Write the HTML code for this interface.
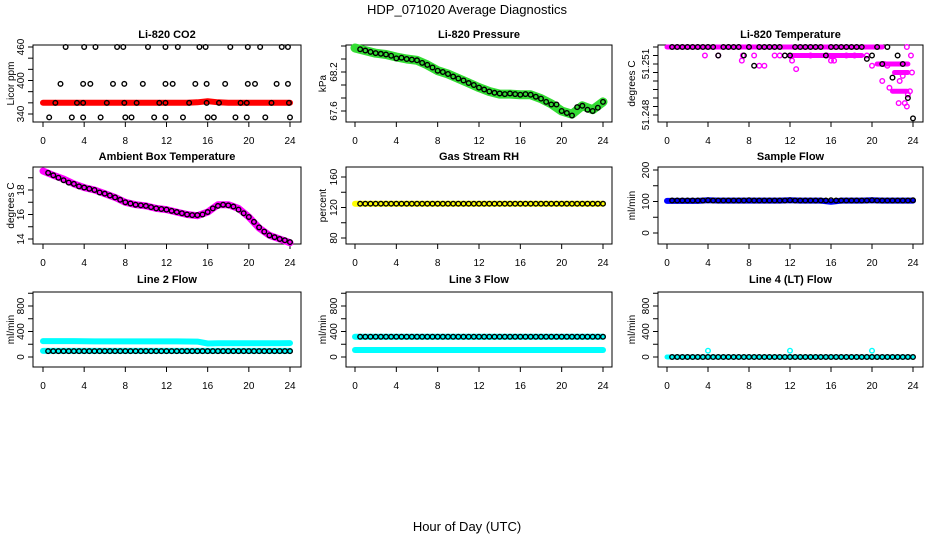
<!DOCTYPE html>
<html><head><meta charset="utf-8"><style>
html,body{margin:0;padding:0;background:#fff}
svg{display:block;font-family:"Liberation Sans",sans-serif}
</style></head><body>
<svg id="chart" width="936" height="540" viewBox="0 0 936 540" xmlns="http://www.w3.org/2000/svg">
<text x="467" y="14" text-anchor="middle" font-size="13">HDP_071020  Average Diagnostics</text>
<text x="467" y="531" text-anchor="middle" font-size="13">Hour of Day (UTC)</text>
</svg>
<script>
// ---- data ----
const xTicks = [0,4,8,12,16,20,24];
const hours = [0,1,2,3,4,5,6,7,8,9,10,11,12,13,14,15,16,17,18,19,20,21,22,23,24];
const halfHours = [0.5,1,1.5,2,2.5,3,3.5,4,4.5,5,5.5,6,6.5,7,7.5,8,8.5,9,9.5,10,10.5,11,11.5,12,12.5,13,13.5,14,14.5,15,15.5,16,16.5,17,17.5,18,18.5,19,19.5,20,20.5,21,21.5,22,22.5,23,23.5,24];

const co2Hours = [2.2,4.0,5.1,7.2,7.8,10.2,11.9,13.1,15.2,15.8,18.2,19.9,21.1,23.2,23.8, 1.7,3.9,4.6,6.8,7.9,9.7,11.9,12.6,14.8,15.9,17.7,19.9,20.6,22.7,23.8, 1.2,3.3,3.9,6.2,7.9,9.1,11.3,11.9,14.2,15.9,17.1,19.2,19.8,22.2,23.9, 0.6,2.8,3.9,5.6,8.0,8.6,10.8,11.9,13.6,16.0,16.6,18.7,19.8,21.6,24.0];
const co2Values = [460,460,460,460,460,460,460,460,460,460,460,460,460,460,460, 394,394,394,394,394,394,394,394,394,394,394,394,394,394,394, 360,360,360,360,360,360,360,360,360,360,360,360,360,360,360, 334,334,334,334,334,334,334,334,334,334,334,334,334,334,334];
const co2Band = [360,360,360,360,360,360,360,360,360,360,360,360,360,360,360,361,363,361,360,360,360,360,360,360,360];

const pressBand = [68.57,68.53,68.49,68.47,68.43,68.40,68.38,68.31,68.22,68.17,68.10,68.03,67.96,67.90,67.86,67.86,67.85,67.85,67.79,67.71,67.60,67.55,67.68,67.62,67.74];
const pressBlack = [68.55,68.53,68.51,68.49,68.48,68.47,68.45,68.41,68.42,68.40,68.39,68.38,68.34,68.31,68.27,68.22,68.20,68.17,68.13,68.10,68.07,68.03,68.00,67.96,67.93,67.90,67.88,67.87,67.86,67.87,67.86,67.85,67.86,67.85,67.82,67.79,67.74,67.70,67.70,67.60,67.57,67.53,67.66,67.68,67.62,67.60,67.65,67.74];

const tempBlack = [51.252,51.252,51.252,51.252,51.252,51.252,51.252,51.252,51.252,51.2515,51.252,51.252,51.252,51.252,51.2515,51.252,51.2509,51.252,51.252,51.252,51.252,51.252,51.2515,51.2515,51.252,51.252,51.252,51.252,51.252,51.252,51.2515,51.252,51.252,51.252,51.252,51.252,51.252,51.252,51.2513,51.2515,51.252,51.2510,51.252,51.2502,51.2515,51.2510,51.2490,51.2478];
const tempBandStart = [0,12,20.5,22.2,22.0];
const tempBandEnd = [21,19,23.5,23.5,23.4];
const tempBandValue = [51.252,51.2515,51.2510,51.2505,51.2494];
const tempPinkHours = [3.7,5.0,7.4,7.3,8.5,9.0,9.5,11.5,12.2,12.6,14.0,15.6,16.3,17.5,20.0,21.2,21.5,21.0,21.7,22.6,23.2,23.4,23.5,23.7,23.9,23.8,23.4,22.7,23.0,18.3,19.5,16.0,10.5,11.0];
const tempPinkValues = [51.2515,51.2515,51.2515,51.2512,51.2515,51.2509,51.2509,51.2515,51.2512,51.2507,51.2515,51.2515,51.2512,51.2515,51.2509,51.2510,51.2509,51.2500,51.2496,51.2487,51.2487,51.2485,51.2492,51.2494,51.2505,51.2515,51.2520,51.2500,51.2503,51.2515,51.2515,51.2512,51.2515,51.2515];

const ambBand = [19.55,19.2,18.9,18.5,18.2,18.0,17.7,17.4,17.0,16.8,16.7,16.5,16.4,16.2,16.0,15.9,16.2,16.8,16.8,16.5,15.8,14.9,14.3,14.0,13.7];
const ambBlack = [19.4,19.2,19.0,18.8,18.6,18.5,18.3,18.2,18.1,18.0,17.8,17.7,17.55,17.4,17.2,17.0,16.9,16.8,16.75,16.7,16.6,16.5,16.45,16.4,16.3,16.2,16.1,16.0,15.95,15.95,16.0,16.2,16.5,16.7,16.8,16.75,16.65,16.4,16.1,15.8,15.4,14.95,14.6,14.3,14.15,14.0,13.9,13.75];

const rhBand = [125,125,125,125,125,125,125,125,125,125,125,125,125,125,125,125,125,125,125,125,125,125,125,125,125];
const rhBlack = [125,125,125,125,125,125,125,125,125,125,125,125,125,125,125,125,125,125,125,125,125,125,125,125,125,125,125,125,125,125,125,125,125,125,125,125,125,125,125,125,125,125,125,125,125,125,125,125];

const sampleBand = [102,102,102,102,104,103,103,103,103,103,103,103,104,103,103,103,99,103,103,103,104,103,103,103,103];
const sampleBlack = [103,103,103,103,103,103,103,104,103,103,103,103,103,103,103,104,103,103,103,103,103,103,103,104,103,103,103,103,103,103,103,104,103,103,103,103,103,103,103,104,103,103,103,103,103,103,103,104];

const line2BandHigh = [250,250,250,250,248,245,245,245,245,245,245,245,245,245,243,242,212,215,215,215,215,215,215,215,218];
const line2BandLow = [95,95,95,95,95,95,95,95,95,95,95,95,95,95,95,95,95,95,95,95,95,95,95,95,95];
const line2Black = [92,92,92,92,92,92,92,92,92,92,92,92,92,92,92,92,92,92,92,92,92,92,92,92,92,92,92,92,92,92,92,92,92,92,92,92,92,92,92,92,92,92,92,92,92,92,92,92];

const line3BandHigh = [318,318,318,318,318,318,318,318,318,318,318,318,318,318,318,318,318,318,318,318,318,318,318,318,318];
const line3BandLow = [110,110,110,110,110,110,110,110,110,110,110,110,110,110,110,110,110,110,110,110,110,110,110,110,110];
const line3Black = [318,318,318,318,318,318,318,318,318,318,318,318,318,318,318,318,318,318,318,318,318,318,318,318,318,318,318,318,318,318,318,318,318,318,318,318,318,318,318,318,318,318,318,318,318,318,318,318];

const line4Band = [0,0,0,0,0,0,0,0,0,0,0,0,0,0,0,0,0,0,0,0,0,0,0,0,0];
const line4Black = [0,0,0,0,0,0,0,0,0,0,0,0,0,0,0,0,0,0,0,0,0,0,0,0,0,0,0,0,0,0,0,0,0,0,0,0,0,0,0,0,0,0,0,0,0,0,0,0];
const line4CyanHours = [4,12,20];
const line4CyanValues = [99,99,99];

// ---- drawing ----
const NS = "http://www.w3.org/2000/svg";
const svg = document.getElementById('chart');
function mk(tag, attrs, parent){
  const e = document.createElementNS(NS, tag);
  for (const k in attrs) e.setAttribute(k, attrs[k]);
  (parent||svg).appendChild(e);
  return e;
}
const cols = [{l:33,r:301,x0:43,x24:290,ylab:14},{l:346,r:612,x0:355,x24:603,ylab:326},{l:658,r:923,x0:667,x24:913,ylab:635}];
const rows = [{t:45,b:122,title:38},{t:167,b:244,title:160},{t:292,b:367,title:283}];

function panel(name, ci, ri, title, ylabel, yA, pA, yB, pB, ticks, labels){
  const c = cols[ci], r = rows[ri];
  const g = mk('g', {});
  
  
  const sx = t => c.x0 + (t/24)*(c.x24-c.x0);
  const sy = v => pA + (v-yA)*(pB-pA)/(yB-yA);
  const tt = mk('text', {x:(c.l+c.r)/2, y:r.title, 'text-anchor':'middle', 'font-size':11, 'font-weight':'bold'}, g);
  tt.textContent = title;
  
  
  const yl = mk('text', {x:c.ylab, y:(r.t+r.b)/2, 'text-anchor':'middle', 'font-size':10, transform:`rotate(-90 ${c.ylab} ${(r.t+r.b)/2})`}, g);
  yl.textContent = ylabel;
  
  
  const box = mk('rect', {x:c.l, y:r.t, width:c.r-c.l, height:r.b-r.t, fill:'none', stroke:'#000', 'stroke-width':1}, g);
  
  
  xTicks.forEach(t => {
    const x = sx(t);
    mk('line', {x1:x, x2:x, y1:r.b, y2:r.b+5, stroke:'#000'}, g);
    const lb = mk('text', {x:x, y:r.b+22, 'text-anchor':'middle', 'font-size':10}, g);
    lb.textContent = t;
    
    
  });
  ticks.forEach(v => {
    const y = sy(v);
    mk('line', {x1:c.l-5, x2:c.l, y1:y, y2:y, stroke:'#000'}, g);
  });
  labels.forEach(v => {
    const y = sy(v);
    const lb = mk('text', {x:c.l-9, y:y, 'text-anchor':'middle', 'font-size':10, transform:`rotate(-90 ${c.l-9} ${y})`}, g);
    lb.textContent = v;
    
    
  });
  return {g, sx, sy};
}
function band(p, xs, vs, color, w, name){
  const pts = xs.map((t,i)=>p.sx(t).toFixed(1)+','+p.sy(vs[i]).toFixed(1)).join(' ');
  const pl = mk('polyline', {points:pts, fill:'none', stroke:color, 'stroke-width':w||6, 'stroke-linejoin':'round', 'stroke-linecap':'round'}, p.g);
  
  
}
function circles(p, xs, vs, color, name){
  xs.forEach((t,i)=>{
    const ci = mk('circle', {cx:p.sx(t), cy:p.sy(vs[i]), r:2.3, fill:'none', stroke:color, 'stroke-width':1.4}, p.g);
    
    
  });
}

let p;
p = panel('co2', 0, 0, 'Li-820 CO2', 'Licor ppm', 340, 114, 460, 47, [340,360,380,400,420,440,460], [340,400,460]);
band(p, hours, co2Band, '#ff0000', 6, 'co2-band');
circles(p, co2Hours, co2Values, '#000', 'co2-point');

p = panel('pressure', 1, 0, 'Li-820 Pressure', 'kPa', 67.6, 111, 68.2, 72, [67.6,67.8,68.0,68.2,68.4,68.6], [67.6,68.2]);
band(p, hours, pressBand, '#33dd33', 9, 'pressure-band');
circles(p, halfHours, pressBlack, '#000', 'pressure-point');

p = panel('temperature', 2, 0, 'Li-820 Temperature', 'degrees C', 51.248, 115, 51.251, 64, [51.248,51.2485,51.249,51.2495,51.25,51.2505,51.251,51.2515,51.252], [51.248,51.251]);
tempBandStart.forEach((s,i)=>band(p, [s, tempBandEnd[i]], [tempBandValue[i], tempBandValue[i]], '#ff00ff', 5, 'temperature-band'));
circles(p, tempPinkHours, tempPinkValues, '#ff00ff', 'temperature-pink-point');
circles(p, halfHours, tempBlack, '#000', 'temperature-point');

p = panel('ambient', 0, 1, 'Ambient Box Temperature', 'degrees C', 14, 239, 18, 190, [14,15,16,17,18,19], [14,16,18]);
band(p, hours, ambBand, '#ff00ff', 7, 'ambient-band');
circles(p, halfHours, ambBlack, '#000', 'ambient-point');

p = panel('rh', 1, 1, 'Gas Stream RH', 'percent', 80, 238, 160, 177, [80,100,120,140,160], [80,120,160]);
band(p, hours, rhBand, '#ffff00', 6, 'rh-band');
circles(p, halfHours, rhBlack, '#000', 'rh-point');

p = panel('sample-flow', 2, 1, 'Sample Flow', 'ml/min', 0, 233, 200, 170, [0,50,100,150,200], [0,100,200]);
band(p, hours, sampleBand, '#0000ff', 6, 'sample-flow-band');
circles(p, halfHours, sampleBlack, '#000', 'sample-flow-point');

p = panel('line2-flow', 0, 2, 'Line 2 Flow', 'ml/min', 0, 357, 800, 306, [0,200,400,600,800,1000], [0,400,800]);
band(p, hours, line2BandHigh, '#00ffff', 6, 'line2-high-band');
band(p, hours, line2BandLow, '#00ffff', 6, 'line2-low-band');
circles(p, halfHours, line2Black, '#000', 'line2-point');

p = panel('line3-flow', 1, 2, 'Line 3 Flow', 'ml/min', 0, 357, 800, 306, [0,200,400,600,800,1000], [0,400,800]);
band(p, hours, line3BandHigh, '#00ffff', 6, 'line3-high-band');
band(p, hours, line3BandLow, '#00ffff', 6, 'line3-low-band');
circles(p, halfHours, line3Black, '#000', 'line3-point');

p = panel('line4-flow', 2, 2, 'Line 4 (LT) Flow', 'ml/min', 0, 357, 800, 306, [0,200,400,600,800,1000], [0,400,800]);
band(p, hours, line4Band, '#00ffff', 5, 'line4-band');
circles(p, halfHours, line4Black, '#000', 'line4-point');
circles(p, line4CyanHours, line4CyanValues, '#00ffff', 'line4-cyan-point');
</script>
</body></html>
